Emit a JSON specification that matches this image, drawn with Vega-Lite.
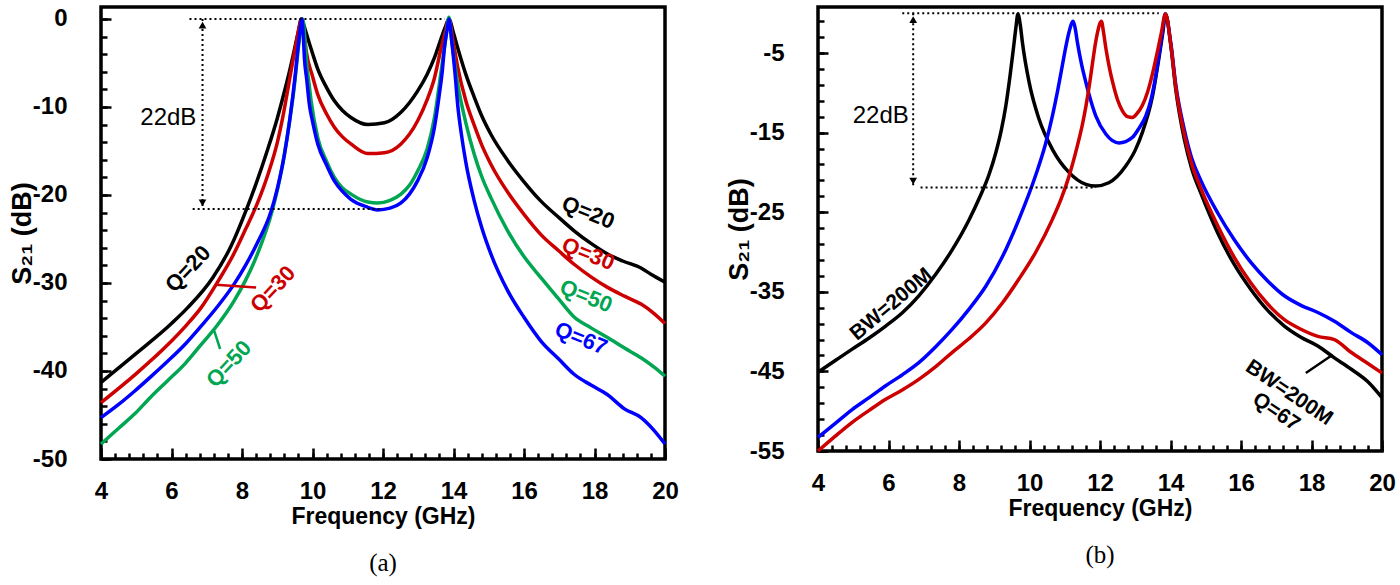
{
  "$schema": "https://vega.github.io/schema/vega-lite/v6.json",
  "background": "white",
  "padding": {"left": 6, "top": 5, "right": 5, "bottom": 0},
  "spacing": 42,
  "config": {
    "view": {"stroke": "black", "strokeWidth": 3.5},
    "axis": {
      "domain": false,
      "grid": false,
      "tickColor": "black",
      "tickWidth": 2.5,
      "labelColor": "black",
      "labelFont": "Liberation Sans",
      "labelFontWeight": "bold",
      "labelFontSize": 24,
      "labelFlush": false,
      "labelOverlap": false,
      "labelExpr": "replace(datum.label, '−', '-')",
      "titleFont": "Liberation Sans",
      "titleFontWeight": "bold",
      "titleFontSize": 23,
      "titleColor": "black"
    },
    "title": {"font": "Liberation Serif", "fontSize": 25, "fontWeight": "normal", "color": "black", "frame": "group", "anchor": "middle", "offset": 23}
  },
  "resolve": {"scale": {"x": "independent", "y": "independent", "color": "independent"}},
  "datasets": {
    "curvesA": [
      {"f": 4, "db": -41.3, "s": "Q=20"}, {"f": 5, "db": -38.0, "s": "Q=20"}, {"f": 6, "db": -34.6, "s": "Q=20"}, {"f": 6.46, "db": -32.8, "s": "Q=20"}, {"f": 7.17, "db": -29.4, "s": "Q=20"}, {"f": 7.69, "db": -25.8, "s": "Q=20"}, {"f": 8.11, "db": -21.8, "s": "Q=20"}, {"f": 8.4, "db": -18.7, "s": "Q=20"}, {"f": 8.73, "db": -14.8, "s": "Q=20"}, {"f": 9.0, "db": -11.3, "s": "Q=20"}, {"f": 9.2, "db": -8.3, "s": "Q=20"}, {"f": 9.35, "db": -5.9, "s": "Q=20"}, {"f": 9.48, "db": -3.6, "s": "Q=20"}, {"f": 9.6, "db": -1.4, "s": "Q=20"}, {"f": 9.68, "db": 0, "s": "Q=20"}, {"f": 9.8, "db": -1.3, "s": "Q=20"}, {"f": 9.86, "db": -2.1, "s": "Q=20"}, {"f": 10.0, "db": -3.9, "s": "Q=20"}, {"f": 10.15, "db": -5.7, "s": "Q=20"}, {"f": 10.4, "db": -7.8, "s": "Q=20"}, {"f": 10.62, "db": -9.3, "s": "Q=20"}, {"f": 10.85, "db": -10.4, "s": "Q=20"}, {"f": 11.09, "db": -11.2, "s": "Q=20"}, {"f": 11.57, "db": -12.0, "s": "Q=20"}, {"f": 12.04, "db": -11.8, "s": "Q=20"}, {"f": 12.51, "db": -10.6, "s": "Q=20"}, {"f": 12.98, "db": -8.2, "s": "Q=20"}, {"f": 13.25, "db": -6.3, "s": "Q=20"}, {"f": 13.46, "db": -4.4, "s": "Q=20"}, {"f": 13.65, "db": -2.2, "s": "Q=20"}, {"f": 13.76, "db": -1.0, "s": "Q=20"}, {"f": 13.87, "db": 0, "s": "Q=20"}, {"f": 14.0, "db": -1.6, "s": "Q=20"}, {"f": 14.12, "db": -3.3, "s": "Q=20"}, {"f": 14.35, "db": -6.3, "s": "Q=20"}, {"f": 14.59, "db": -8.9, "s": "Q=20"}, {"f": 14.8, "db": -11.0, "s": "Q=20"}, {"f": 15.06, "db": -13.1, "s": "Q=20"}, {"f": 15.54, "db": -16.1, "s": "Q=20"}, {"f": 16.0, "db": -18.5, "s": "Q=20"}, {"f": 16.48, "db": -20.7, "s": "Q=20"}, {"f": 17.0, "db": -22.6, "s": "Q=20"}, {"f": 17.43, "db": -24.1, "s": "Q=20"}, {"f": 17.9, "db": -25.5, "s": "Q=20"}, {"f": 18.37, "db": -26.7, "s": "Q=20"}, {"f": 18.8, "db": -27.5, "s": "Q=20"}, {"f": 19.32, "db": -28.3, "s": "Q=20"}, {"f": 19.6, "db": -29.0, "s": "Q=20"}, {"f": 20, "db": -29.9, "s": "Q=20"},
      {"f": 4, "db": -43.6, "s": "Q=30"}, {"f": 5, "db": -40.3, "s": "Q=30"}, {"f": 5.9, "db": -37.0, "s": "Q=30"}, {"f": 6.4, "db": -34.9, "s": "Q=30"}, {"f": 6.84, "db": -32.8, "s": "Q=30"}, {"f": 7.26, "db": -30.2, "s": "Q=30"}, {"f": 7.78, "db": -26.6, "s": "Q=30"}, {"f": 8.1, "db": -23.9, "s": "Q=30"}, {"f": 8.44, "db": -20.9, "s": "Q=30"}, {"f": 8.75, "db": -17.5, "s": "Q=30"}, {"f": 9.01, "db": -13.9, "s": "Q=30"}, {"f": 9.15, "db": -11.3, "s": "Q=30"}, {"f": 9.3, "db": -8.0, "s": "Q=30"}, {"f": 9.45, "db": -4.6, "s": "Q=30"}, {"f": 9.53, "db": -2.9, "s": "Q=30"}, {"f": 9.62, "db": -1.0, "s": "Q=30"}, {"f": 9.69, "db": 0, "s": "Q=30"}, {"f": 9.76, "db": -1.6, "s": "Q=30"}, {"f": 9.82, "db": -3.6, "s": "Q=30"}, {"f": 10.0, "db": -6.5, "s": "Q=30"}, {"f": 10.15, "db": -8.6, "s": "Q=30"}, {"f": 10.4, "db": -10.8, "s": "Q=30"}, {"f": 10.62, "db": -12.3, "s": "Q=30"}, {"f": 10.85, "db": -13.4, "s": "Q=30"}, {"f": 11.09, "db": -14.2, "s": "Q=30"}, {"f": 11.57, "db": -15.3, "s": "Q=30"}, {"f": 12.04, "db": -15.2, "s": "Q=30"}, {"f": 12.51, "db": -14.2, "s": "Q=30"}, {"f": 12.98, "db": -11.6, "s": "Q=30"}, {"f": 13.25, "db": -9.2, "s": "Q=30"}, {"f": 13.46, "db": -6.7, "s": "Q=30"}, {"f": 13.65, "db": -3.3, "s": "Q=30"}, {"f": 13.76, "db": -1.6, "s": "Q=30"}, {"f": 13.87, "db": 0, "s": "Q=30"}, {"f": 14.0, "db": -2.8, "s": "Q=30"}, {"f": 14.12, "db": -5.5, "s": "Q=30"}, {"f": 14.35, "db": -9.3, "s": "Q=30"}, {"f": 14.59, "db": -12.1, "s": "Q=30"}, {"f": 14.8, "db": -14.3, "s": "Q=30"}, {"f": 15.06, "db": -16.5, "s": "Q=30"}, {"f": 15.54, "db": -19.7, "s": "Q=30"}, {"f": 16.0, "db": -22.2, "s": "Q=30"}, {"f": 16.48, "db": -24.5, "s": "Q=30"}, {"f": 17.0, "db": -26.4, "s": "Q=30"}, {"f": 17.43, "db": -27.9, "s": "Q=30"}, {"f": 17.9, "db": -29.3, "s": "Q=30"}, {"f": 18.37, "db": -30.5, "s": "Q=30"}, {"f": 18.85, "db": -31.5, "s": "Q=30"}, {"f": 19.32, "db": -32.4, "s": "Q=30"}, {"f": 19.7, "db": -33.5, "s": "Q=30"}, {"f": 20, "db": -34.6, "s": "Q=30"},
      {"f": 4, "db": -48.3, "s": "Q=50"}, {"f": 4.5, "db": -46.5, "s": "Q=50"}, {"f": 4.95, "db": -44.9, "s": "Q=50"}, {"f": 5.4, "db": -43.0, "s": "Q=50"}, {"f": 5.89, "db": -41.1, "s": "Q=50"}, {"f": 6.4, "db": -39.1, "s": "Q=50"}, {"f": 6.84, "db": -37.0, "s": "Q=50"}, {"f": 7.26, "db": -35.0, "s": "Q=50"}, {"f": 7.78, "db": -32.0, "s": "Q=50"}, {"f": 8.1, "db": -29.7, "s": "Q=50"}, {"f": 8.44, "db": -26.7, "s": "Q=50"}, {"f": 8.87, "db": -21.6, "s": "Q=50"}, {"f": 9.05, "db": -18.6, "s": "Q=50"}, {"f": 9.2, "db": -15.4, "s": "Q=50"}, {"f": 9.35, "db": -11.6, "s": "Q=50"}, {"f": 9.48, "db": -7.8, "s": "Q=50"}, {"f": 9.58, "db": -4.0, "s": "Q=50"}, {"f": 9.66, "db": -1.3, "s": "Q=50"}, {"f": 9.72, "db": 0, "s": "Q=50"}, {"f": 9.78, "db": -2.0, "s": "Q=50"}, {"f": 9.82, "db": -4.4, "s": "Q=50"}, {"f": 9.9, "db": -7.3, "s": "Q=50"}, {"f": 9.96, "db": -9.3, "s": "Q=50"}, {"f": 10.15, "db": -13.5, "s": "Q=50"}, {"f": 10.4, "db": -16.2, "s": "Q=50"}, {"f": 10.62, "db": -18.0, "s": "Q=50"}, {"f": 10.85, "db": -19.2, "s": "Q=50"}, {"f": 11.09, "db": -19.9, "s": "Q=50"}, {"f": 11.57, "db": -20.8, "s": "Q=50"}, {"f": 11.85, "db": -20.9, "s": "Q=50"}, {"f": 12.2, "db": -20.6, "s": "Q=50"}, {"f": 12.51, "db": -19.9, "s": "Q=50"}, {"f": 12.75, "db": -18.9, "s": "Q=50"}, {"f": 12.98, "db": -17.3, "s": "Q=50"}, {"f": 13.25, "db": -14.8, "s": "Q=50"}, {"f": 13.46, "db": -11.2, "s": "Q=50"}, {"f": 13.65, "db": -5.9, "s": "Q=50"}, {"f": 13.77, "db": -2.5, "s": "Q=50"}, {"f": 13.87, "db": 0.2, "s": "Q=50"}, {"f": 13.95, "db": -2.5, "s": "Q=50"}, {"f": 14.12, "db": -7.4, "s": "Q=50"}, {"f": 14.35, "db": -11.8, "s": "Q=50"}, {"f": 14.59, "db": -15.4, "s": "Q=50"}, {"f": 14.8, "db": -17.9, "s": "Q=50"}, {"f": 15.06, "db": -20.3, "s": "Q=50"}, {"f": 15.54, "db": -24.1, "s": "Q=50"}, {"f": 16.0, "db": -27.0, "s": "Q=50"}, {"f": 16.48, "db": -29.4, "s": "Q=50"}, {"f": 17.0, "db": -31.9, "s": "Q=50"}, {"f": 17.43, "db": -33.9, "s": "Q=50"}, {"f": 17.9, "db": -35.1, "s": "Q=50"}, {"f": 18.37, "db": -36.2, "s": "Q=50"}, {"f": 18.85, "db": -37.4, "s": "Q=50"}, {"f": 19.32, "db": -38.5, "s": "Q=50"}, {"f": 19.7, "db": -39.6, "s": "Q=50"}, {"f": 20, "db": -40.6, "s": "Q=50"},
      {"f": 4, "db": -45.3, "s": "Q=67"}, {"f": 4.5, "db": -43.8, "s": "Q=67"}, {"f": 4.95, "db": -42.3, "s": "Q=67"}, {"f": 5.4, "db": -40.7, "s": "Q=67"}, {"f": 5.89, "db": -38.9, "s": "Q=67"}, {"f": 6.4, "db": -36.9, "s": "Q=67"}, {"f": 6.84, "db": -34.9, "s": "Q=67"}, {"f": 7.3, "db": -32.7, "s": "Q=67"}, {"f": 7.78, "db": -30.1, "s": "Q=67"}, {"f": 8.1, "db": -28.0, "s": "Q=67"}, {"f": 8.44, "db": -25.4, "s": "Q=67"}, {"f": 8.82, "db": -21.9, "s": "Q=67"}, {"f": 9.0, "db": -19.3, "s": "Q=67"}, {"f": 9.2, "db": -15.5, "s": "Q=67"}, {"f": 9.35, "db": -11.6, "s": "Q=67"}, {"f": 9.44, "db": -8.8, "s": "Q=67"}, {"f": 9.52, "db": -6.0, "s": "Q=67"}, {"f": 9.58, "db": -3.6, "s": "Q=67"}, {"f": 9.64, "db": -1.5, "s": "Q=67"}, {"f": 9.7, "db": 0, "s": "Q=67"}, {"f": 9.74, "db": -2.0, "s": "Q=67"}, {"f": 9.77, "db": -4.4, "s": "Q=67"}, {"f": 9.84, "db": -7.0, "s": "Q=67"}, {"f": 9.91, "db": -9.7, "s": "Q=67"}, {"f": 10.0, "db": -11.6, "s": "Q=67"}, {"f": 10.15, "db": -14.2, "s": "Q=67"}, {"f": 10.4, "db": -16.6, "s": "Q=67"}, {"f": 10.62, "db": -18.4, "s": "Q=67"}, {"f": 10.85, "db": -19.6, "s": "Q=67"}, {"f": 11.09, "db": -20.5, "s": "Q=67"}, {"f": 11.57, "db": -21.4, "s": "Q=67"}, {"f": 11.85, "db": -21.7, "s": "Q=67"}, {"f": 12.2, "db": -21.5, "s": "Q=67"}, {"f": 12.51, "db": -20.9, "s": "Q=67"}, {"f": 12.75, "db": -19.9, "s": "Q=67"}, {"f": 12.98, "db": -18.4, "s": "Q=67"}, {"f": 13.25, "db": -15.8, "s": "Q=67"}, {"f": 13.46, "db": -12.3, "s": "Q=67"}, {"f": 13.6, "db": -8.5, "s": "Q=67"}, {"f": 13.68, "db": -6.0, "s": "Q=67"}, {"f": 13.75, "db": -3.0, "s": "Q=67"}, {"f": 13.82, "db": -1.2, "s": "Q=67"}, {"f": 13.87, "db": 0, "s": "Q=67"}, {"f": 13.95, "db": -2.5, "s": "Q=67"}, {"f": 14.05, "db": -6.5, "s": "Q=67"}, {"f": 14.12, "db": -9.8, "s": "Q=67"}, {"f": 14.22, "db": -13.0, "s": "Q=67"}, {"f": 14.35, "db": -16.3, "s": "Q=67"}, {"f": 14.59, "db": -20.7, "s": "Q=67"}, {"f": 14.8, "db": -23.7, "s": "Q=67"}, {"f": 15.06, "db": -26.7, "s": "Q=67"}, {"f": 15.54, "db": -30.9, "s": "Q=67"}, {"f": 16.0, "db": -33.9, "s": "Q=67"}, {"f": 16.48, "db": -36.6, "s": "Q=67"}, {"f": 17.0, "db": -38.7, "s": "Q=67"}, {"f": 17.43, "db": -40.4, "s": "Q=67"}, {"f": 17.9, "db": -41.6, "s": "Q=67"}, {"f": 18.37, "db": -42.7, "s": "Q=67"}, {"f": 18.85, "db": -44.3, "s": "Q=67"}, {"f": 19.32, "db": -45.3, "s": "Q=67"}, {"f": 19.7, "db": -46.8, "s": "Q=67"}, {"f": 20, "db": -48.3, "s": "Q=67"}
    ],
    "curvesB": [
      {"f": 4, "db": -45.1, "s": "BW=200M"}, {"f": 4.5, "db": -43.6, "s": "BW=200M"}, {"f": 4.97, "db": -42.2, "s": "BW=200M"}, {"f": 5.45, "db": -40.8, "s": "BW=200M"}, {"f": 5.92, "db": -39.3, "s": "BW=200M"}, {"f": 6.4, "db": -37.6, "s": "BW=200M"}, {"f": 6.86, "db": -35.5, "s": "BW=200M"}, {"f": 7.34, "db": -32.8, "s": "BW=200M"}, {"f": 7.81, "db": -29.7, "s": "BW=200M"}, {"f": 8.28, "db": -26.0, "s": "BW=200M"}, {"f": 8.6, "db": -23.0, "s": "BW=200M"}, {"f": 8.85, "db": -20.3, "s": "BW=200M"}, {"f": 9.04, "db": -17.6, "s": "BW=200M"}, {"f": 9.2, "db": -14.7, "s": "BW=200M"}, {"f": 9.33, "db": -11.6, "s": "BW=200M"}, {"f": 9.45, "db": -7.8, "s": "BW=200M"}, {"f": 9.55, "db": -4.2, "s": "BW=200M"}, {"f": 9.62, "db": -1.6, "s": "BW=200M"}, {"f": 9.67, "db": -0.1, "s": "BW=200M"}, {"f": 9.74, "db": -1.5, "s": "BW=200M"}, {"f": 9.8, "db": -3.7, "s": "BW=200M"}, {"f": 9.99, "db": -8.7, "s": "BW=200M"}, {"f": 10.27, "db": -13.3, "s": "BW=200M"}, {"f": 10.65, "db": -17.1, "s": "BW=200M"}, {"f": 11.12, "db": -20.0, "s": "BW=200M"}, {"f": 11.6, "db": -21.5, "s": "BW=200M"}, {"f": 11.88, "db": -21.7, "s": "BW=200M"}, {"f": 12.25, "db": -21.3, "s": "BW=200M"}, {"f": 12.73, "db": -19.2, "s": "BW=200M"}, {"f": 13.0, "db": -17.2, "s": "BW=200M"}, {"f": 13.2, "db": -15.0, "s": "BW=200M"}, {"f": 13.49, "db": -10.4, "s": "BW=200M"}, {"f": 13.68, "db": -5.4, "s": "BW=200M"}, {"f": 13.78, "db": -2.5, "s": "BW=200M"}, {"f": 13.86, "db": -0.1, "s": "BW=200M"}, {"f": 14.01, "db": -4.1, "s": "BW=200M"}, {"f": 14.15, "db": -9.6, "s": "BW=200M"}, {"f": 14.39, "db": -15.8, "s": "BW=200M"}, {"f": 14.6, "db": -19.5, "s": "BW=200M"}, {"f": 14.87, "db": -22.7, "s": "BW=200M"}, {"f": 15.34, "db": -27.6, "s": "BW=200M"}, {"f": 15.8, "db": -31.5, "s": "BW=200M"}, {"f": 16.28, "db": -34.7, "s": "BW=200M"}, {"f": 16.75, "db": -37.3, "s": "BW=200M"}, {"f": 17.23, "db": -39.3, "s": "BW=200M"}, {"f": 17.7, "db": -40.7, "s": "BW=200M"}, {"f": 18.18, "db": -41.8, "s": "BW=200M"}, {"f": 18.65, "db": -43.3, "s": "BW=200M"}, {"f": 19.12, "db": -44.7, "s": "BW=200M"}, {"f": 19.6, "db": -46.3, "s": "BW=200M"}, {"f": 20, "db": -48.3, "s": "BW=200M"},
      {"f": 4, "db": -53.3, "s": "f1=11.2GHz"}, {"f": 4.5, "db": -51.5, "s": "f1=11.2GHz"}, {"f": 4.97, "db": -49.8, "s": "f1=11.2GHz"}, {"f": 5.45, "db": -48.3, "s": "f1=11.2GHz"}, {"f": 5.92, "db": -46.8, "s": "f1=11.2GHz"}, {"f": 6.4, "db": -45.4, "s": "f1=11.2GHz"}, {"f": 6.86, "db": -43.9, "s": "f1=11.2GHz"}, {"f": 7.34, "db": -41.9, "s": "f1=11.2GHz"}, {"f": 7.81, "db": -39.7, "s": "f1=11.2GHz"}, {"f": 8.28, "db": -37.2, "s": "f1=11.2GHz"}, {"f": 8.76, "db": -34.3, "s": "f1=11.2GHz"}, {"f": 9.23, "db": -30.6, "s": "f1=11.2GHz"}, {"f": 9.7, "db": -25.9, "s": "f1=11.2GHz"}, {"f": 10.18, "db": -20.3, "s": "f1=11.2GHz"}, {"f": 10.45, "db": -16.5, "s": "f1=11.2GHz"}, {"f": 10.65, "db": -12.9, "s": "f1=11.2GHz"}, {"f": 10.8, "db": -9.7, "s": "f1=11.2GHz"}, {"f": 10.93, "db": -6.6, "s": "f1=11.2GHz"}, {"f": 11.05, "db": -3.8, "s": "f1=11.2GHz"}, {"f": 11.12, "db": -2.4, "s": "f1=11.2GHz"}, {"f": 11.24, "db": -1.0, "s": "f1=11.2GHz"}, {"f": 11.3, "db": -2.0, "s": "f1=11.2GHz"}, {"f": 11.36, "db": -3.7, "s": "f1=11.2GHz"}, {"f": 11.48, "db": -6.5, "s": "f1=11.2GHz"}, {"f": 11.6, "db": -8.7, "s": "f1=11.2GHz"}, {"f": 11.74, "db": -11.0, "s": "f1=11.2GHz"}, {"f": 11.88, "db": -12.9, "s": "f1=11.2GHz"}, {"f": 12.17, "db": -15.2, "s": "f1=11.2GHz"}, {"f": 12.54, "db": -16.3, "s": "f1=11.2GHz"}, {"f": 12.92, "db": -15.6, "s": "f1=11.2GHz"}, {"f": 13.1, "db": -14.5, "s": "f1=11.2GHz"}, {"f": 13.3, "db": -12.9, "s": "f1=11.2GHz"}, {"f": 13.45, "db": -10.8, "s": "f1=11.2GHz"}, {"f": 13.58, "db": -7.9, "s": "f1=11.2GHz"}, {"f": 13.7, "db": -4.5, "s": "f1=11.2GHz"}, {"f": 13.77, "db": -2.4, "s": "f1=11.2GHz"}, {"f": 13.85, "db": -0.1, "s": "f1=11.2GHz"}, {"f": 14.01, "db": -3.8, "s": "f1=11.2GHz"}, {"f": 14.15, "db": -9.0, "s": "f1=11.2GHz"}, {"f": 14.39, "db": -14.6, "s": "f1=11.2GHz"}, {"f": 14.6, "db": -18.2, "s": "f1=11.2GHz"}, {"f": 14.87, "db": -21.1, "s": "f1=11.2GHz"}, {"f": 15.34, "db": -25.1, "s": "f1=11.2GHz"}, {"f": 15.8, "db": -28.4, "s": "f1=11.2GHz"}, {"f": 16.28, "db": -31.3, "s": "f1=11.2GHz"}, {"f": 16.75, "db": -33.6, "s": "f1=11.2GHz"}, {"f": 17.23, "db": -35.5, "s": "f1=11.2GHz"}, {"f": 17.7, "db": -36.7, "s": "f1=11.2GHz"}, {"f": 18.18, "db": -37.6, "s": "f1=11.2GHz"}, {"f": 18.65, "db": -38.7, "s": "f1=11.2GHz"}, {"f": 19.12, "db": -40.1, "s": "f1=11.2GHz"}, {"f": 19.6, "db": -41.4, "s": "f1=11.2GHz"}, {"f": 20, "db": -42.9, "s": "f1=11.2GHz"},
      {"f": 4, "db": -55.0, "s": "f1=12.0GHz"}, {"f": 4.5, "db": -53.1, "s": "f1=12.0GHz"}, {"f": 4.97, "db": -51.4, "s": "f1=12.0GHz"}, {"f": 5.45, "db": -49.9, "s": "f1=12.0GHz"}, {"f": 5.92, "db": -48.5, "s": "f1=12.0GHz"}, {"f": 6.4, "db": -47.3, "s": "f1=12.0GHz"}, {"f": 6.86, "db": -46.0, "s": "f1=12.0GHz"}, {"f": 7.34, "db": -44.4, "s": "f1=12.0GHz"}, {"f": 7.81, "db": -42.6, "s": "f1=12.0GHz"}, {"f": 8.28, "db": -40.9, "s": "f1=12.0GHz"}, {"f": 8.76, "db": -38.9, "s": "f1=12.0GHz"}, {"f": 9.23, "db": -36.4, "s": "f1=12.0GHz"}, {"f": 9.7, "db": -33.4, "s": "f1=12.0GHz"}, {"f": 10.18, "db": -30.0, "s": "f1=12.0GHz"}, {"f": 10.65, "db": -25.9, "s": "f1=12.0GHz"}, {"f": 10.9, "db": -23.3, "s": "f1=12.0GHz"}, {"f": 11.12, "db": -20.5, "s": "f1=12.0GHz"}, {"f": 11.35, "db": -16.8, "s": "f1=12.0GHz"}, {"f": 11.5, "db": -14.0, "s": "f1=12.0GHz"}, {"f": 11.6, "db": -11.7, "s": "f1=12.0GHz"}, {"f": 11.7, "db": -9.0, "s": "f1=12.0GHz"}, {"f": 11.79, "db": -6.2, "s": "f1=12.0GHz"}, {"f": 11.87, "db": -3.8, "s": "f1=12.0GHz"}, {"f": 11.93, "db": -2.4, "s": "f1=12.0GHz"}, {"f": 12.04, "db": -1.0, "s": "f1=12.0GHz"}, {"f": 12.1, "db": -2.4, "s": "f1=12.0GHz"}, {"f": 12.17, "db": -4.5, "s": "f1=12.0GHz"}, {"f": 12.26, "db": -6.7, "s": "f1=12.0GHz"}, {"f": 12.36, "db": -8.7, "s": "f1=12.0GHz"}, {"f": 12.5, "db": -10.9, "s": "f1=12.0GHz"}, {"f": 12.64, "db": -12.3, "s": "f1=12.0GHz"}, {"f": 12.78, "db": -13.0, "s": "f1=12.0GHz"}, {"f": 12.92, "db": -13.1, "s": "f1=12.0GHz"}, {"f": 13.05, "db": -12.6, "s": "f1=12.0GHz"}, {"f": 13.2, "db": -11.6, "s": "f1=12.0GHz"}, {"f": 13.35, "db": -9.9, "s": "f1=12.0GHz"}, {"f": 13.49, "db": -7.6, "s": "f1=12.0GHz"}, {"f": 13.62, "db": -5.0, "s": "f1=12.0GHz"}, {"f": 13.73, "db": -2.7, "s": "f1=12.0GHz"}, {"f": 13.86, "db": -0.1, "s": "f1=12.0GHz"}, {"f": 14.01, "db": -4.0, "s": "f1=12.0GHz"}, {"f": 14.15, "db": -9.3, "s": "f1=12.0GHz"}, {"f": 14.39, "db": -15.2, "s": "f1=12.0GHz"}, {"f": 14.6, "db": -18.9, "s": "f1=12.0GHz"}, {"f": 14.87, "db": -22.1, "s": "f1=12.0GHz"}, {"f": 15.34, "db": -26.7, "s": "f1=12.0GHz"}, {"f": 15.8, "db": -30.6, "s": "f1=12.0GHz"}, {"f": 16.28, "db": -33.9, "s": "f1=12.0GHz"}, {"f": 16.75, "db": -36.5, "s": "f1=12.0GHz"}, {"f": 17.23, "db": -38.5, "s": "f1=12.0GHz"}, {"f": 17.7, "db": -39.7, "s": "f1=12.0GHz"}, {"f": 18.18, "db": -40.6, "s": "f1=12.0GHz"}, {"f": 18.65, "db": -41.0, "s": "f1=12.0GHz"}, {"f": 19.12, "db": -42.6, "s": "f1=12.0GHz"}, {"f": 19.6, "db": -44.0, "s": "f1=12.0GHz"}, {"f": 20, "db": -45.2, "s": "f1=12.0GHz"}
    ]
  },
  "hconcat": [
    {
      "width": 564,
      "height": 452,
      "title": {"text": "(a)", "orient": "bottom"},
      "resolve": {"axis": {"x": "independent", "y": "independent"}},
      "layer": [
        {
          "data": {"name": "curvesA"},
          "mark": {"type": "line", "strokeWidth": 3.5, "interpolate": "monotone"},
          "encoding": {
            "x": {"field": "f", "type": "quantitative", "scale": {"domain": [4, 20], "nice": false, "zero": false},
              "axis": {"orient": "bottom", "values": [4, 6, 8, 10, 12, 14, 16, 18, 20], "tickSize": -11, "labelPadding": 31, "title": "Frequency (GHz)", "titlePadding": 2}},
            "y": {"field": "db", "type": "quantitative", "scale": {"domain": [-50, 1.36], "nice": false, "zero": false},
              "axis": {"orient": "left", "values": [-50, -40, -30, -20, -10, 0], "tickSize": -10, "labelPadding": 44, "title": "S₂₁ (dB)", "titleFontSize": 27, "titlePadding": -4}},
            "color": {"field": "s", "type": "nominal", "scale": {"domain": ["Q=20", "Q=30", "Q=50", "Q=67"], "range": ["#000000", "#cc0000", "#00a651", "#0000ff"]}, "legend": null}
          }
        },
        {
          "data": {"name": "curvesA"},
          "mark": {"type": "line", "opacity": 0},
          "encoding": {
            "x": {"field": "f", "type": "quantitative",
              "axis": {"orient": "bottom", "values": [4, 4.4, 4.8, 5.2, 5.6, 6, 6.4, 6.8, 7.2, 7.6, 8, 8.4, 8.8, 9.2, 9.6, 10, 10.4, 10.8, 11.2, 11.6, 12, 12.4, 12.8, 13.2, 13.6, 14, 14.4, 14.8, 15.2, 15.6, 16, 16.4, 16.8, 17.2, 17.6, 18, 18.4, 18.8, 19.2, 19.6, 20], "tickSize": -6, "labels": false, "title": null}},
            "y": {"field": "db", "type": "quantitative",
              "axis": {"orient": "left", "values": [-50, -48, -46, -44, -42, -40, -38, -36, -34, -32, -30, -28, -26, -24, -22, -20, -18, -16, -14, -12, -10, -8, -6, -4, -2, 0], "tickSize": -6, "labels": false, "title": null}}
          }
        },
        {
          "data": {"values": [{"x1": 6.51, "x2": 13.75, "y": 0}, {"x1": 6.6, "x2": 11.9, "y": -21.6}]},
          "mark": {"type": "rule", "color": "black", "strokeWidth": 2, "strokeDash": [2, 3]},
          "encoding": {
            "x": {"field": "x1", "type": "quantitative", "axis": null},
            "x2": {"field": "x2"},
            "y": {"field": "y", "type": "quantitative", "axis": null}
          }
        },
        {
          "data": {"values": [{"x": 6.88, "y1": 0, "y2": -21.6}]},
          "mark": {"type": "rule", "color": "black", "strokeWidth": 2, "strokeDash": [2, 3]},
          "encoding": {
            "x": {"field": "x", "type": "quantitative", "axis": null},
            "y": {"field": "y1", "type": "quantitative", "axis": null},
            "y2": {"field": "y2"}
          }
        },
        {
          "data": {"values": [{"x": 6.88, "y": -0.7, "dir": "up"}, {"x": 6.88, "y": -20.9, "dir": "down"}]},
          "mark": {"type": "point", "filled": true, "color": "black", "size": 60, "opacity": 1},
          "encoding": {
            "x": {"field": "x", "type": "quantitative", "axis": null},
            "y": {"field": "y", "type": "quantitative", "axis": null},
            "shape": {"field": "dir", "type": "nominal", "scale": {"domain": ["up", "down"], "range": ["triangle-up", "triangle-down"]}, "legend": null}
          }
        },
        {
          "data": {"values": [{"x": 5.91, "y": -11.3, "t": "22dB"}]},
          "mark": {"type": "text", "font": "Liberation Sans", "fontSize": 24, "color": "black", "align": "center", "baseline": "middle"},
          "encoding": {
            "x": {"field": "x", "type": "quantitative", "axis": null},
            "y": {"field": "y", "type": "quantitative", "axis": null},
            "text": {"field": "t"}
          }
        },
        {
          "data": {"values": [{"x1": 7.26, "y1": -30.2, "x2": 8.4, "y2": -30.5, "s": "Q=30"}, {"x1": 7.21, "y1": -35.4, "x2": 7.38, "y2": -37.5, "s": "Q=50"}]},
          "mark": {"type": "rule", "strokeWidth": 2.5},
          "encoding": {
            "x": {"field": "x1", "type": "quantitative", "axis": null},
            "x2": {"field": "x2"},
            "y": {"field": "y1", "type": "quantitative", "axis": null},
            "y2": {"field": "y2"},
            "color": {"field": "s", "type": "nominal", "scale": {"domain": ["Q=20", "Q=30", "Q=50", "Q=67"], "range": ["#000000", "#cc0000", "#00a651", "#0000ff"]}, "legend": null}
          }
        },
        {
          "data": {"values": [{"x": 6.47, "y": -28.4, "s": "Q=20"}, {"x": 8.88, "y": -30.7, "s": "Q=30"}, {"x": 7.63, "y": -39.2, "s": "Q=50"}]},
          "mark": {"type": "text", "font": "Liberation Sans", "fontWeight": "bold", "fontSize": 22, "angle": -47, "align": "center", "baseline": "middle"},
          "encoding": {
            "x": {"field": "x", "type": "quantitative", "axis": null},
            "y": {"field": "y", "type": "quantitative", "axis": null},
            "text": {"field": "s"},
            "color": {"field": "s", "type": "nominal", "scale": {"domain": ["Q=20", "Q=30", "Q=50", "Q=67"], "range": ["#000000", "#cc0000", "#00a651", "#0000ff"]}, "legend": null}
          }
        },
        {
          "data": {"values": [{"x": 17.82, "y": -22.0, "s": "Q=20"}, {"x": 17.82, "y": -26.7, "s": "Q=30"}, {"x": 17.76, "y": -31.5, "s": "Q=50"}, {"x": 17.62, "y": -36.3, "s": "Q=67"}]},
          "mark": {"type": "text", "font": "Liberation Sans", "fontWeight": "bold", "fontSize": 22, "angle": 22, "align": "center", "baseline": "middle"},
          "encoding": {
            "x": {"field": "x", "type": "quantitative", "axis": null},
            "y": {"field": "y", "type": "quantitative", "axis": null},
            "text": {"field": "s"},
            "color": {"field": "s", "type": "nominal", "scale": {"domain": ["Q=20", "Q=30", "Q=50", "Q=67"], "range": ["#000000", "#cc0000", "#00a651", "#0000ff"]}, "legend": null}
          }
        }
      ]
    },
    {
      "width": 564,
      "height": 444,
      "title": {"text": "(b)", "orient": "bottom"},
      "resolve": {"axis": {"x": "independent", "y": "independent"}},
      "layer": [
        {
          "data": {"name": "curvesB"},
          "mark": {"type": "line", "strokeWidth": 3.5, "interpolate": "monotone"},
          "encoding": {
            "x": {"field": "f", "type": "quantitative", "scale": {"domain": [4, 20], "nice": false, "zero": false},
              "axis": {"orient": "bottom", "values": [4, 6, 8, 10, 12, 14, 16, 18, 20], "tickSize": -11, "labelPadding": 31, "title": "Frequency (GHz)", "titlePadding": 2}},
            "y": {"field": "db", "type": "quantitative", "scale": {"domain": [-55, 0.78], "nice": false, "zero": false},
              "axis": {"orient": "left", "values": [-55, -45, -35, -25, -15, -5], "tickSize": -10, "labelPadding": 44, "title": "S₂₁ (dB)", "titleFontSize": 27, "titlePadding": -4}},
            "color": {"field": "s", "type": "nominal", "scale": {"domain": ["BW=200M", "f1=11.2GHz", "f1=12.0GHz"], "range": ["#000000", "#0000ff", "#cc0000"]}, "legend": null}
          }
        },
        {
          "data": {"name": "curvesB"},
          "mark": {"type": "line", "opacity": 0},
          "encoding": {
            "x": {"field": "f", "type": "quantitative",
              "axis": {"orient": "bottom", "values": [4, 4.4, 4.8, 5.2, 5.6, 6, 6.4, 6.8, 7.2, 7.6, 8, 8.4, 8.8, 9.2, 9.6, 10, 10.4, 10.8, 11.2, 11.6, 12, 12.4, 12.8, 13.2, 13.6, 14, 14.4, 14.8, 15.2, 15.6, 16, 16.4, 16.8, 17.2, 17.6, 18, 18.4, 18.8, 19.2, 19.6, 20], "tickSize": -6, "labels": false, "title": null}},
            "y": {"field": "db", "type": "quantitative",
              "axis": {"orient": "left", "values": [-55, -53, -51, -49, -47, -45, -43, -41, -39, -37, -35, -33, -31, -29, -27, -25, -23, -21, -19, -17, -15, -13, -11, -9, -7, -5, -3, -1], "tickSize": -6, "labels": false, "title": null}}
          }
        },
        {
          "data": {"values": [{"x1": 6.39, "x2": 13.67, "y": 0}, {"x1": 6.91, "x2": 11.88, "y": -21.9}]},
          "mark": {"type": "rule", "color": "black", "strokeWidth": 2, "strokeDash": [2, 3]},
          "encoding": {
            "x": {"field": "x1", "type": "quantitative", "axis": null},
            "x2": {"field": "x2"},
            "y": {"field": "y", "type": "quantitative", "axis": null}
          }
        },
        {
          "data": {"values": [{"x": 6.7, "y1": 0, "y2": -21.9}]},
          "mark": {"type": "rule", "color": "black", "strokeWidth": 2, "strokeDash": [2, 3]},
          "encoding": {
            "x": {"field": "x", "type": "quantitative", "axis": null},
            "y": {"field": "y1", "type": "quantitative", "axis": null},
            "y2": {"field": "y2"}
          }
        },
        {
          "data": {"values": [{"x": 6.7, "y": -0.8, "dir": "up"}, {"x": 6.7, "y": -21.1, "dir": "down"}]},
          "mark": {"type": "point", "filled": true, "color": "black", "size": 60, "opacity": 1},
          "encoding": {
            "x": {"field": "x", "type": "quantitative", "axis": null},
            "y": {"field": "y", "type": "quantitative", "axis": null},
            "shape": {"field": "dir", "type": "nominal", "scale": {"domain": ["up", "down"], "range": ["triangle-up", "triangle-down"]}, "legend": null}
          }
        },
        {
          "data": {"values": [{"x": 5.78, "y": -12.9, "t": "22dB"}]},
          "mark": {"type": "text", "font": "Liberation Sans", "fontSize": 24, "color": "black", "align": "center", "baseline": "middle"},
          "encoding": {
            "x": {"field": "x", "type": "quantitative", "axis": null},
            "y": {"field": "y", "type": "quantitative", "axis": null},
            "text": {"field": "t"}
          }
        },
        {
          "data": {"values": [{"x1": 17.84, "y1": -45.2, "x2": 18.6, "y2": -42.9}]},
          "mark": {"type": "rule", "strokeWidth": 2.5, "color": "black"},
          "encoding": {
            "x": {"field": "x1", "type": "quantitative", "axis": null},
            "x2": {"field": "x2"},
            "y": {"field": "y1", "type": "quantitative", "axis": null},
            "y2": {"field": "y2"}
          }
        },
        {
          "data": {"values": [{"x": 6.08, "y": -36.6, "t": "BW=200M"}]},
          "mark": {"type": "text", "font": "Liberation Sans", "fontWeight": "bold", "fontSize": 21, "angle": -40, "align": "center", "baseline": "middle", "color": "black"},
          "encoding": {
            "x": {"field": "x", "type": "quantitative", "axis": null},
            "y": {"field": "y", "type": "quantitative", "axis": null},
            "text": {"field": "t"}
          }
        },
        {
          "data": {"values": [{"x": 17.36, "y": -47.7, "t": ["BW=200M", "Q=67"]}]},
          "mark": {"type": "text", "font": "Liberation Sans", "fontWeight": "bold", "fontSize": 21, "angle": 34, "align": "center", "baseline": "middle", "lineHeight": 23, "color": "black"},
          "encoding": {
            "x": {"field": "x", "type": "quantitative", "axis": null},
            "y": {"field": "y", "type": "quantitative", "axis": null},
            "text": {"field": "t"}
          }
        }
      ]
    }
  ]
}
